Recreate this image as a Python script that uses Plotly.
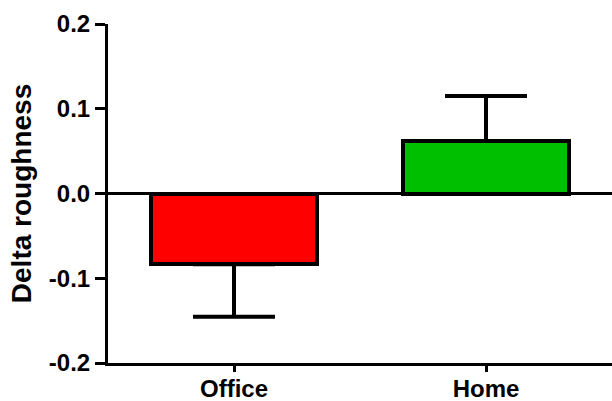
import plotly.graph_objects as go

# Group means and SEM of the change in roughness
groups = ["Office", "Home"]
means = [-0.0834, 0.062]
sem = [0.062, 0.053]
colors = ["#FF0000", "#00BF00"]

positions = list(range(len(groups)))

fig = go.Figure()
for i, (g, m, s, c) in enumerate(zip(groups, means, sem, colors)):
    up = s if m >= 0 else 0
    down = s if m < 0 else 0
    fig.add_trace(go.Bar(
        x=[positions[i]], y=[m], name=g, width=0.66,
        marker=dict(color=c, line=dict(color="black", width=4)),
        error_y=dict(type="data", symmetric=False, array=[up], arrayminus=[down],
                     color="black", thickness=4, width=41),
        showlegend=False,
    ))

bold = dict(family="Liberation Sans, Arial, sans-serif", color="black", weight="bold")

fig.update_layout(
    width=612, height=401,
    margin=dict(l=108, r=0, t=24, b=38),
    paper_bgcolor="white", plot_bgcolor="white",
    bargap=0,
    xaxis=dict(
        range=[-0.5, 1.5], tickvals=positions, ticktext=groups,
        showline=True, linecolor="black", linewidth=3,
        ticks="outside", ticklen=6, tickwidth=3, tickcolor="black",
        showgrid=False, zeroline=False, automargin=False,
        ticklabelstandoff=-4,
        tickfont=dict(size=24, **bold),
    ),
    yaxis=dict(
        range=[-0.2, 0.2], tickvals=[-0.2, -0.1, 0.0, 0.1, 0.2],
        ticktext=["-0.2", "-0.1", "0.0", "0.1", "0.2"],
        showline=True, linecolor="black", linewidth=3,
        ticks="outside", ticklen=10, tickwidth=3, tickcolor="black",
        showgrid=False, zeroline=True, zerolinecolor="black", zerolinewidth=3,
        automargin=False,
        tickfont=dict(size=24, **bold),
        title=dict(text="Delta roughness", font=dict(size=28, **bold), standoff=10),
    ),
)

fig.write_html("out.html")
